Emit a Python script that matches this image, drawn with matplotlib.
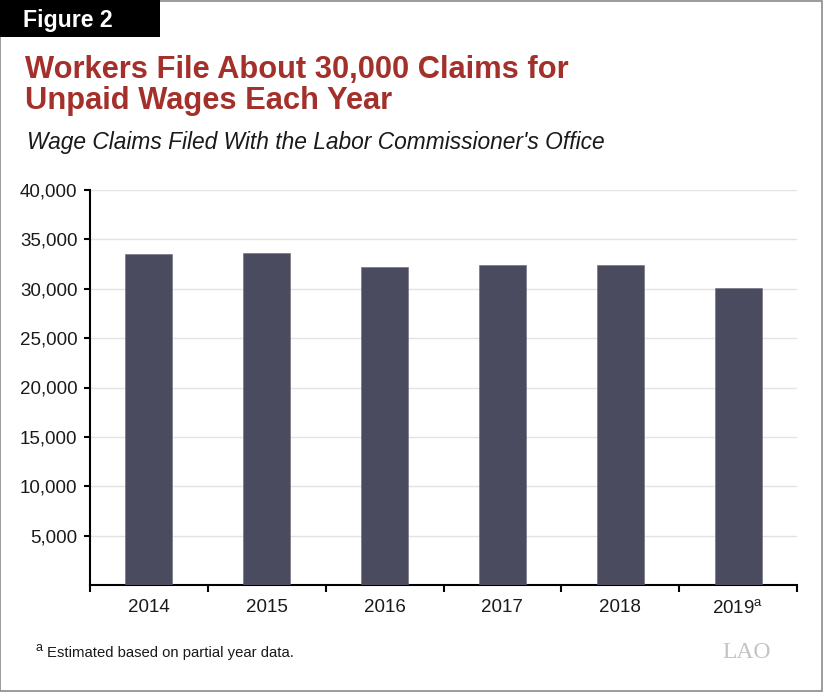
"""
Figure 2: Wage claims filed with the Labor Commissioner's Office, 2014-2019.
Schreibt: out.png
"""
import matplotlib
matplotlib.use("Agg")
import matplotlib.pyplot as plt
from matplotlib.patches import Rectangle
from matplotlib.ticker import FuncFormatter, FixedLocator

plt.rcParams["font.family"] = ["Liberation Sans", "DejaVu Sans"]

YEARS  = ["2014", "2015", "2016", "2017", "2018", "2019$^\\mathregular{a}$"]
CLAIMS = [33500, 33600, 32200, 32400, 32400, 30100]
YTICKS = [5000, 10000, 15000, 20000, 25000, 30000, 35000, 40000]

BAR    = "#4b4b5f"
ROT    = "#a3302a"
GRID   = "#e3e3e3"
DUNKEL = "#1a1a1a"

W, H = 826, 693
fig = plt.figure(figsize=(W / 100, H / 100), dpi=100, facecolor="white")

# Rahmen + "Figure 2" Kasten
fig.patches.append(Rectangle((0, 2 / H), 822 / W, 1 - 3 / H, transform=fig.transFigure,
                             fill=False, edgecolor="#8a8a8a", linewidth=1.2))
fig.patches.append(Rectangle((0, 1 - 37 / H), 160 / W, 37 / H, transform=fig.transFigure,
                             facecolor="black", edgecolor="none"))
fig.text(23 / W, 1 - 27 / H, "Figure 2", color="white", fontsize=16.7,
         fontweight="bold", va="baseline")

fig.text(25 / W, 1 - 78 / H, "Workers File About 30,000 Claims for",
         color=ROT, fontsize=22.2, fontweight="bold", va="baseline")
fig.text(25 / W, 1 - 109 / H, "Unpaid Wages Each Year",
         color=ROT, fontsize=22.2, fontweight="bold", va="baseline")
fig.text(27 / W, 1 - 149 / H, "Wage Claims Filed With the Labor Commissioner's Office",
         color=DUNKEL, fontsize=16.4, style="italic", va="baseline")

# Achsen
ax = fig.add_axes([90 / W, 1 - 585 / H, 707 / W, 395 / H])
x = range(len(YEARS))
ax.bar(x, CLAIMS, width=0.4, color=BAR, edgecolor="#6a6a7a", linewidth=0.4, zorder=3)
ax.set_xlim(-0.5, len(YEARS) - 0.5)
ax.set_ylim(0, 40000)

ax.yaxis.set_major_locator(FixedLocator(YTICKS))
ax.yaxis.set_major_formatter(FuncFormatter(lambda v, _: f"{v:,.0f}"))
ax.grid(axis="y", color=GRID, linewidth=1, zorder=0)

ax.set_xticks(list(x))
ax.set_xticklabels(YEARS)
ax.set_xticks([i + 0.5 for i in range(-1, len(YEARS))], minor=True)
ax.tick_params(axis="x", which="major", length=0, pad=10, labelsize=13.5, colors=DUNKEL)
ax.tick_params(axis="x", which="minor", length=5, width=1.5, direction="out", color="black")
ax.tick_params(axis="y", length=4, width=1.5, direction="out", pad=5,
               labelsize=13.5, colors=DUNKEL)
ax.tick_params(axis="y", color="black")

ax.spines[["top", "right"]].set_visible(False)
for s in ("left", "bottom"):
    ax.spines[s].set_linewidth(1.5)
    ax.spines[s].set_color("black")

# Fussnote + Logo
fig.text(35 / W, 1 - 651 / H, "a", fontsize=9, color=DUNKEL, va="baseline")
fig.text(47 / W, 1 - 657 / H, "Estimated based on partial year data.", fontsize=10.7,
         color=DUNKEL, va="baseline")
fig.text(722 / W, 1 - 658 / H, "LAO", family=["Liberation Serif", "DejaVu Serif"],
         fontsize=17, color="#c4c4c4", va="baseline")

fig.savefig("out.png", dpi=100, facecolor="white")
